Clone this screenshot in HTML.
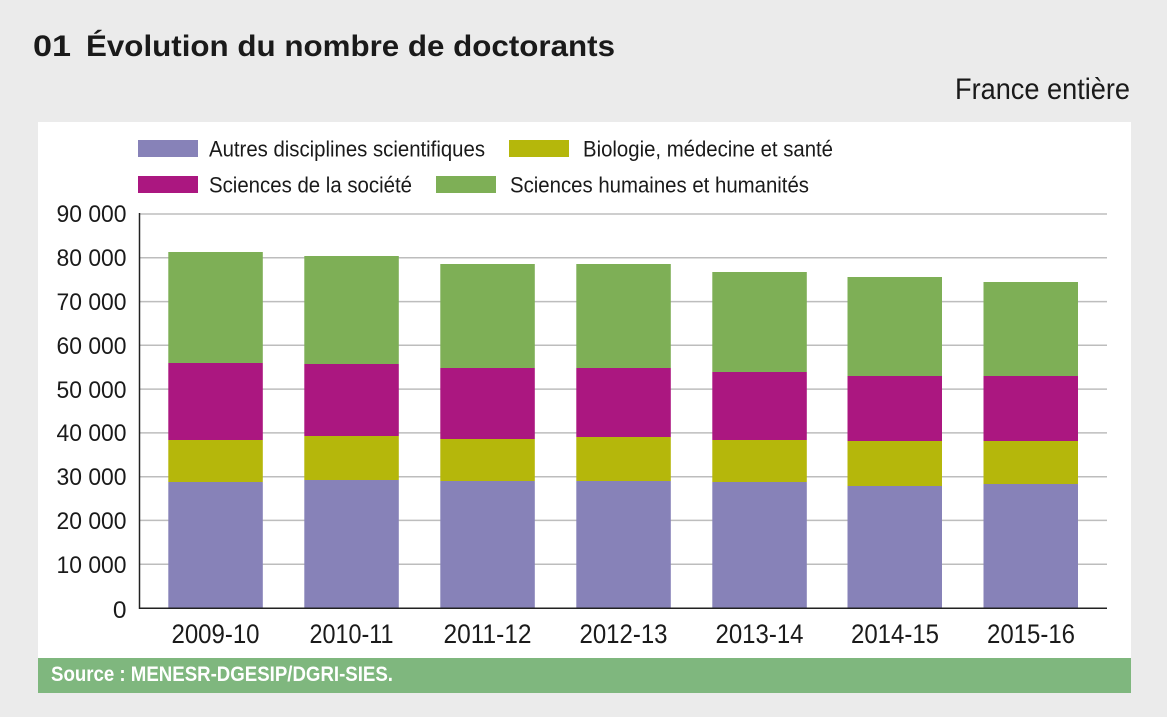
<!DOCTYPE html>
<html><head><meta charset="utf-8"><style>
html,body{margin:0;padding:0;background:#ebebeb;}
svg{display:block;}
text{font-family:"Liberation Sans",Arial,sans-serif;}
</style></head><body>
<svg width="1167" height="717" viewBox="0 0 1167 717" xmlns="http://www.w3.org/2000/svg">
<rect x="0" y="0" width="1167" height="717" fill="#ebebeb"/>
<text x="33" y="56" font-size="30" font-weight="bold" fill="#1a1a1a" textLength="38" lengthAdjust="spacingAndGlyphs">01</text>
<text x="86" y="56" font-size="30" font-weight="bold" fill="#1a1a1a" textLength="529" lengthAdjust="spacingAndGlyphs">Évolution du nombre de doctorants</text>
<text x="955" y="99" font-size="30" fill="#1a1a1a" textLength="175" lengthAdjust="spacingAndGlyphs">France entière</text>
<rect x="38" y="122" width="1093" height="536" fill="#ffffff"/>
<rect x="38" y="658" width="1093" height="35" fill="#7fb77e"/>
<text x="51" y="681" font-size="21" font-weight="bold" fill="#ffffff" textLength="342" lengthAdjust="spacingAndGlyphs">Source : MENESR-DGESIP/DGRI-SIES.</text>
<!-- legend -->
<rect x="138" y="140" width="60" height="17" fill="#8782b8"/>
<text x="209" y="156.5" font-size="22" fill="#1a1a1a" textLength="276" lengthAdjust="spacingAndGlyphs">Autres disciplines scientifiques</text>
<rect x="509" y="140" width="60" height="17" fill="#b5b70b"/>
<text x="583" y="156.5" font-size="22" fill="#1a1a1a" textLength="250" lengthAdjust="spacingAndGlyphs">Biologie, médecine et santé</text>
<rect x="138" y="176" width="60" height="17" fill="#ab1780"/>
<text x="209" y="192.5" font-size="22" fill="#1a1a1a" textLength="203" lengthAdjust="spacingAndGlyphs">Sciences de la société</text>
<rect x="436" y="176" width="60" height="17" fill="#7eaf56"/>
<text x="510" y="192.5" font-size="22" fill="#1a1a1a" textLength="299" lengthAdjust="spacingAndGlyphs">Sciences humaines et humanités</text>
<!-- gridlines -->
<g stroke="#bdbdbd" stroke-width="1.5">
<line x1="140" y1="214" x2="1107" y2="214"/>
<line x1="140" y1="257.8" x2="1107" y2="257.8"/>
<line x1="140" y1="301.6" x2="1107" y2="301.6"/>
<line x1="140" y1="345.3" x2="1107" y2="345.3"/>
<line x1="140" y1="389.1" x2="1107" y2="389.1"/>
<line x1="140" y1="432.9" x2="1107" y2="432.9"/>
<line x1="140" y1="476.7" x2="1107" y2="476.7"/>
<line x1="140" y1="520.4" x2="1107" y2="520.4"/>
<line x1="140" y1="564.2" x2="1107" y2="564.2"/>
</g>
<!-- y tick labels -->
<g font-size="24.5" fill="#1a1a1a" text-anchor="end">
<text x="126.5" y="222" textLength="70" lengthAdjust="spacingAndGlyphs">90 000</text>
<text x="126.5" y="266" textLength="70" lengthAdjust="spacingAndGlyphs">80 000</text>
<text x="126.5" y="310" textLength="70" lengthAdjust="spacingAndGlyphs">70 000</text>
<text x="126.5" y="354" textLength="70" lengthAdjust="spacingAndGlyphs">60 000</text>
<text x="126.5" y="398" textLength="70" lengthAdjust="spacingAndGlyphs">50 000</text>
<text x="126.5" y="441" textLength="70" lengthAdjust="spacingAndGlyphs">40 000</text>
<text x="126.5" y="485" textLength="70" lengthAdjust="spacingAndGlyphs">30 000</text>
<text x="126.5" y="529" textLength="70" lengthAdjust="spacingAndGlyphs">20 000</text>
<text x="126.5" y="573" textLength="70" lengthAdjust="spacingAndGlyphs">10 000</text>
<text x="126.5" y="618">0</text>
</g>
<!-- bars -->
<g>
<rect x="168.3" y="252" width="94.5" height="111" fill="#7eaf56"/>
<rect x="168.3" y="363" width="94.5" height="77" fill="#ab1780"/>
<rect x="168.3" y="440" width="94.5" height="42" fill="#b5b70b"/>
<rect x="168.3" y="482" width="94.5" height="126" fill="#8782b8"/>

<rect x="304.3" y="256" width="94.5" height="108" fill="#7eaf56"/>
<rect x="304.3" y="364" width="94.5" height="72" fill="#ab1780"/>
<rect x="304.3" y="436" width="94.5" height="44" fill="#b5b70b"/>
<rect x="304.3" y="480" width="94.5" height="128" fill="#8782b8"/>

<rect x="440.3" y="264" width="94.5" height="104" fill="#7eaf56"/>
<rect x="440.3" y="368" width="94.5" height="71" fill="#ab1780"/>
<rect x="440.3" y="439" width="94.5" height="42" fill="#b5b70b"/>
<rect x="440.3" y="481" width="94.5" height="127" fill="#8782b8"/>

<rect x="576.3" y="264" width="94.5" height="104" fill="#7eaf56"/>
<rect x="576.3" y="368" width="94.5" height="69" fill="#ab1780"/>
<rect x="576.3" y="437" width="94.5" height="44" fill="#b5b70b"/>
<rect x="576.3" y="481" width="94.5" height="127" fill="#8782b8"/>

<rect x="712.3" y="272" width="94.5" height="100" fill="#7eaf56"/>
<rect x="712.3" y="372" width="94.5" height="68" fill="#ab1780"/>
<rect x="712.3" y="440" width="94.5" height="42" fill="#b5b70b"/>
<rect x="712.3" y="482" width="94.5" height="126" fill="#8782b8"/>

<rect x="847.5" y="277" width="94.5" height="99" fill="#7eaf56"/>
<rect x="847.5" y="376" width="94.5" height="65" fill="#ab1780"/>
<rect x="847.5" y="441" width="94.5" height="45" fill="#b5b70b"/>
<rect x="847.5" y="486" width="94.5" height="122" fill="#8782b8"/>

<rect x="983.5" y="282" width="94.5" height="94" fill="#7eaf56"/>
<rect x="983.5" y="376" width="94.5" height="65" fill="#ab1780"/>
<rect x="983.5" y="441" width="94.5" height="43" fill="#b5b70b"/>
<rect x="983.5" y="484" width="94.5" height="124" fill="#8782b8"/>
</g>
<!-- axes -->
<line x1="139.5" y1="213" x2="139.5" y2="609" stroke="#222" stroke-width="1.5"/>
<line x1="139" y1="608.2" x2="1107" y2="608.2" stroke="#222" stroke-width="1.5"/>
<!-- x labels -->
<g font-size="27" fill="#1a1a1a" text-anchor="middle">
<text x="215.5" y="643" textLength="88" lengthAdjust="spacingAndGlyphs">2009-10</text>
<text x="351.5" y="643" textLength="84" lengthAdjust="spacingAndGlyphs">2010-11</text>
<text x="487.5" y="643" textLength="88" lengthAdjust="spacingAndGlyphs">2011-12</text>
<text x="623.5" y="643" textLength="88" lengthAdjust="spacingAndGlyphs">2012-13</text>
<text x="759.5" y="643" textLength="88" lengthAdjust="spacingAndGlyphs">2013-14</text>
<text x="895" y="643" textLength="88" lengthAdjust="spacingAndGlyphs">2014-15</text>
<text x="1031" y="643" textLength="88" lengthAdjust="spacingAndGlyphs">2015-16</text>
</g>
</svg>
</body></html>
